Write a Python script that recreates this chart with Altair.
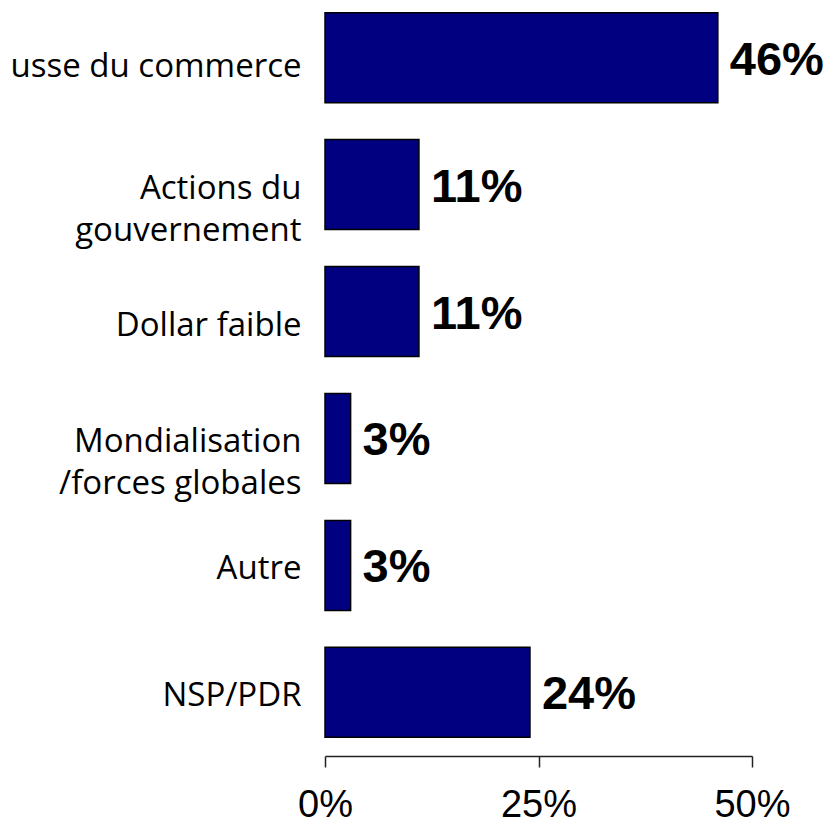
import altair as alt
import pandas as pd

categories = [
    "usse du commerce",
    "Actions du\ngouvernement",
    "Dollar faible",
    "Mondialisation\n/forces globales",
    "Autre",
    "NSP/PDR",
]
values = [46, 11, 11, 3, 3, 24]
x_ticks = [0, 25, 50]

df = pd.DataFrame({"category": categories, "value": values})

y_enc = alt.Y(
    "category:N",
    sort=None,
    title=None,
    scale=alt.Scale(paddingInner=0.291, paddingOuter=0.037),
    axis=alt.Axis(
        domain=False,
        ticks=False,
        grid=False,
        labelFont="Open Sans",
        labelFontSize=33,
        labelColor="#000000",
        labelPadding=24,
        labelLimit=0,
        labelLineHeight=42,
        labelExpr="split(datum.label, '\\n')",
        labelOffset={
            "condition": [
                {"test": "datum.value === 'Dollar faible'", "value": 14},
                {"test": "datum.value === 'usse du commerce'", "value": 9},
            ],
            "value": 4,
        },
    ),
)

x_enc = alt.X(
    "value:Q",
    title=None,
    scale=alt.Scale(domain=[0, 50], nice=False, zero=True),
    axis=alt.Axis(
        values=x_ticks,
        labelExpr="datum.value + '%'",
        offset=14,
        tickSize=11,
        labelPadding=19,
        labelFont="Liberation Sans",
        labelFontSize=38,
        labelColor="#000000",
        labelFlush=False,
        domainColor="#222222",
        domainWidth=1.5,
        tickColor="#222222",
        tickWidth=1.5,
        grid=False,
    ),
)

base = alt.Chart(df)

bars = base.mark_bar(color="#000080", stroke="#000000", strokeWidth=1.5).encode(
    x=x_enc, y=y_enc
)

texts = (
    base.transform_calculate(label="datum.value + '%'")
    .mark_text(
        align="left",
        baseline="middle",
        dx=12,
        dy=3,
        font="Liberation Sans",
        fontSize=47,
        fontWeight="bold",
        color="#000000",
    )
    .encode(x=alt.X("value:Q"), y=alt.Y("category:N", sort=None), text="label:N")
)

chart = (
    alt.layer(bars, texts)
    .properties(
        width=427,
        height=734,
        autosize="none",
        padding={"left": 317, "top": 0, "right": 73, "bottom": 84},
    )
    .configure_view(stroke=None)
)

chart.save("out.html", embed_options={"renderer": "svg", "actions": False})
